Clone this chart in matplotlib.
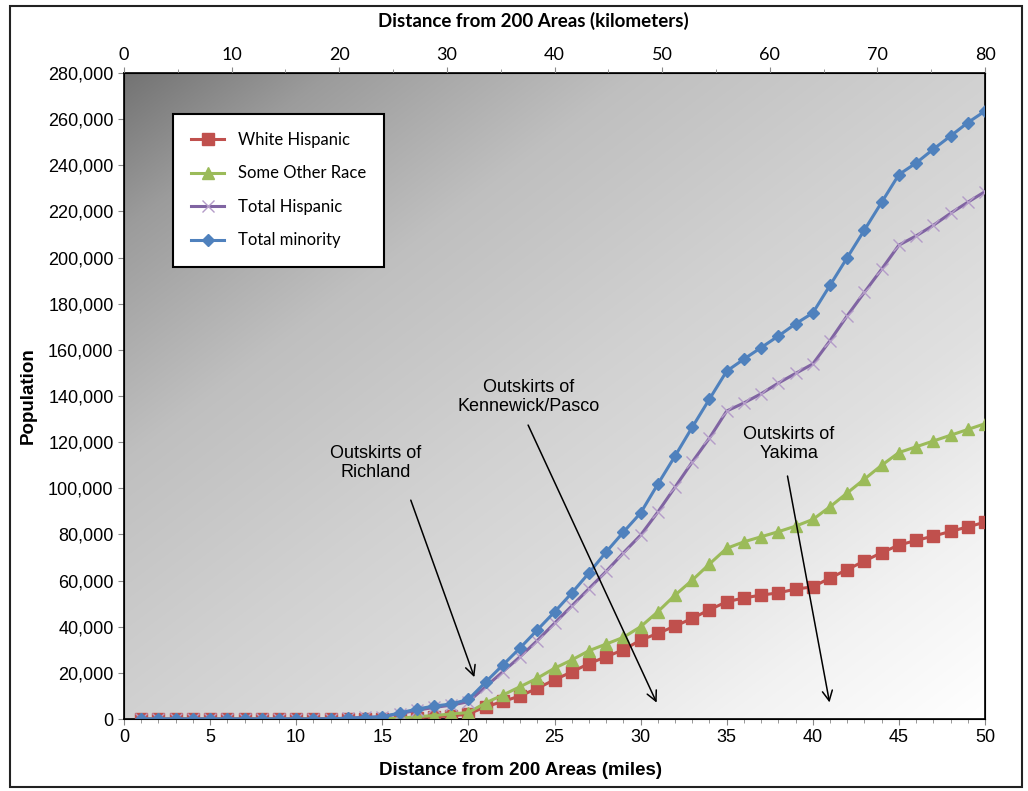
import numpy as np
import matplotlib
matplotlib.use("Agg")
import matplotlib.pyplot as plt
from matplotlib.ticker import FuncFormatter, MultipleLocator
from matplotlib.patches import Rectangle

plt.rcParams["font.family"] = ["Liberation Sans", "DejaVu Sans"]

# distance in miles (1..50)
miles = list(range(1, 51))

white_hispanic = [0, 0, 0, 0, 0, 0, 0, 0, 0, 0,
                  0, 0, 100, 100, 150, 200, 600, 1000, 1300, 2200,
                  5300, 7600, 10000, 13300, 17000, 20400, 24000, 27000, 30000, 34200,
                  37100, 40300, 43600, 47400, 50800, 52500, 53700, 54700, 56300, 57300,
                  61100, 64800, 68500, 72100, 75400, 77400, 79300, 81300, 83300, 85300]

some_other_race = [0, 0, 0, 0, 0, 0, 0, 0, 0, 0,
                   0, 0, 100, 100, 150, 300, 1000, 1500, 2200, 2800,
                   7000, 10400, 14000, 17700, 22000, 25600, 29600, 32500, 35400, 40000,
                   46500, 53700, 60200, 67200, 74000, 76800, 79000, 81200, 83600, 86500,
                   92000, 98000, 104000, 110000, 115500, 118000, 120500, 123000, 125500, 128000]

total_hispanic = [0, 0, 0, 0, 0, 0, 0, 0, 0, 0,
                  0, 100, 400, 700, 1000, 2300, 3800, 5000, 6000, 7500,
                  14000, 20500, 27000, 34000, 41500, 49000, 56500, 64000, 72000, 79700,
                  89700, 100500, 111400, 121800, 133500, 137000, 141000, 145600, 149800, 153900,
                  164000, 174800, 185000, 195000, 205400, 209400, 214000, 219200, 224000, 228600]

total_minority = [0, 0, 0, 0, 0, 0, 0, 0, 0, 0,
                  0, 100, 300, 600, 1000, 2600, 4300, 5600, 6500, 8500,
                  16000, 23400, 30800, 38600, 46400, 54600, 63300, 72400, 81000, 89300,
                  101800, 114000, 126500, 138700, 150800, 156000, 161000, 166000, 171300, 176000,
                  188000, 200000, 212000, 224000, 236000, 241000, 247000, 252700, 258500, 263500]

fig = plt.figure(figsize=(10.28, 7.91), dpi=100)
ax = fig.add_axes([0.1206, 0.0910, 0.8376, 0.8167])

# gray to white diagonal background
nx, ny = 400, 300
u = np.linspace(0, 1, nx)
v = np.linspace(0, 1, ny)
U, V = np.meshgrid(u, v)
t = (U + V) / 2
shade = np.interp(t, [0, 0.12, 0.3, 0.5, 0.7, 0.85, 1.0],
                  [0.45, 0.61, 0.75, 0.82, 0.88, 0.95, 1.0])
ax.imshow(np.dstack([shade, shade, shade]), extent=[0, 1, 0, 1], transform=ax.transAxes,
          aspect="auto", zorder=0, interpolation="bilinear")

ax.plot(miles, white_hispanic, color="#C0504D", lw=2.2, marker="s", ms=8.5,
        label="White Hispanic", zorder=3)
ax.plot(miles, some_other_race, color="#9BBB59", lw=2.2, marker="^", ms=9,
        label="Some Other Race", zorder=3)
ax.plot(miles, total_hispanic, color="#8064A2", lw=2.2, marker="x", ms=8, mew=1.0,
        mec="#b49cc8", label="Total Hispanic", zorder=3)
ax.plot(miles, total_minority, color="#4F81BD", lw=2.2, marker="D", ms=6,
        label="Total minority", zorder=3)

ax.set_xlim(0, 50)
ax.set_ylim(0, 280000)
ax.xaxis.set_major_locator(MultipleLocator(5))
ax.xaxis.set_minor_locator(MultipleLocator(1))
ax.yaxis.set_major_locator(MultipleLocator(20000))
ax.yaxis.set_major_formatter(FuncFormatter(lambda y, p: f"{int(y):,}"))
ax.tick_params(axis="both", labelsize=13, length=4, color="#888888")
ax.tick_params(axis="x", which="minor", length=3, color="#888888")
for s in ax.spines.values():
    s.set_color("black")
    s.set_linewidth(1.2)

ax.set_xlabel("Distance from 200 Areas (miles)", fontsize=13.5, fontweight="bold")
ax.xaxis.set_label_coords(0.461, -0.066)
ax.set_ylabel("Population", fontsize=13.5, fontweight="bold", labelpad=8)

ax2 = ax.twiny()
ax2.set_xlim(0, 80)
ax2.xaxis.set_major_locator(MultipleLocator(10))
ax2.xaxis.set_minor_locator(MultipleLocator(5))
ax2.tick_params(axis="x", labelsize=13, length=4, color="#888888")
ax2.tick_params(axis="x", which="minor", length=3, color="#888888")
for lab in ax2.get_xticklabels():
    lab.set_family(["Lato", "DejaVu Sans"])
ax2.set_xlabel("Distance from 200 Areas (kilometers)", fontsize=13.5, fontweight="bold",
               family=["Lato", "DejaVu Sans"])
ax2.xaxis.set_label_coords(0.475, 1.072)

leg = ax.legend(loc="upper left", bbox_to_anchor=(0.047, 0.95), fancybox=False,
                edgecolor="black", framealpha=1, handlelength=2.0, labelspacing=1.05,
                borderpad=1.1, prop={"family": ["Lato", "DejaVu Sans"], "size": 12})
leg.get_frame().set_linewidth(1.5)

# annotations
notes = [
    ("Outskirts of\nRichland", (14.6, 111000), (16.6, 96000), (20.4, 17000)),
    ("Outskirts of\nKennewick/Pasco", (23.5, 139500), (23.4, 128500), (31.0, 6000)),
    ("Outskirts of\nYakima", (38.6, 119000), (38.5, 106500), (41.0, 6000)),
]
for txt, pos, start, end in notes:
    ax.text(pos[0], pos[1], txt, ha="center", va="center", fontsize=13,
            linespacing=1.15, zorder=4)
    ax.annotate("", xy=end, xytext=start,
                arrowprops=dict(arrowstyle="->", color="black", lw=1.1, mutation_scale=18),
                zorder=4)

fig.patches.append(Rectangle((0.0097, 0.005), 0.984, 0.987, transform=fig.transFigure,
                             fill=False, edgecolor="#222222", lw=1.5))

fig.savefig("out.png", dpi=100)
